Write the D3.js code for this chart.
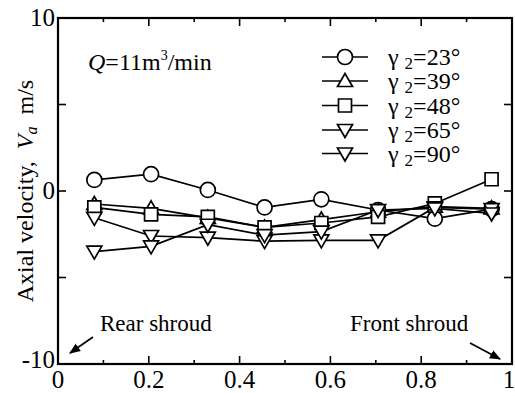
<!DOCTYPE html>
<html>
<head>
<meta charset="utf-8">
<script src="https://cdn.jsdelivr.net/npm/d3@7"></script>
<style>
  body { margin: 0; background: #fff; }
  svg text { font-family: "Liberation Serif", "Times New Roman", serif; fill: #000; white-space: pre; }
</style>
</head>
<body>
<svg id="chart"></svg>
<script>
// Data ------------------------------------------------------------
const positions = [0.08, 0.205, 0.33, 0.455, 0.58, 0.705, 0.83, 0.955];
const gamma23 = [0.64, 0.97, 0.06, -0.95, -0.48, -1.1, -1.6, -1.05];
const gamma39 = [-0.75, -1.0, -1.55, -2.1, -1.65, -1.2, -0.9, -1.0];
const gamma48 = [-0.95, -1.35, -1.5, -2.1, -1.85, -1.5, -0.72, 0.68];
const gamma65 = [-1.55, -2.6, -2.7, -2.9, -2.85, -2.85, -0.95, -1.05];
const gamma90 = [-3.5, -3.2, -1.95, -2.55, -2.35, -1.1, -1.0, -1.3];
const seriesNames = ["23", "39", "48", "65", "90"];
const seriesShapes = ["circle", "up", "square", "down", "down"];
const xTicks = [0, 0.2, 0.4, 0.6, 0.8, 1];
const yTicks = [-10, 0, 10];

const allSeries = [gamma23, gamma39, gamma48, gamma65, gamma90].map((vals, i) => ({
    name: seriesNames[i],
    shape: seriesShapes[i],
    points: vals.map((v, j) => ({ x: positions[j], y: v }))
}));

// Base -------------------------------------------------------------
const W = 515, H = 396;
const margin = { top: 18, right: 3, bottom: 32, left: 58 };

let svg = d3.select("#chart").attr("width", W).attr("height", H);

let x = d3.scaleLinear().domain([0, 1]).range([margin.left, W - margin.right]);
let y = d3.scaleLinear().domain([-10, 10]).range([H - margin.bottom, margin.top]);

// Ticks (inward on all four sides)
const xMinor = d3.range(0, 1.0001, 0.1);
svg.append("g").selectAll("line").data(xMinor).enter().append("line")
    .attr("x1", d => x(d)).attr("x2", d => x(d))
    .attr("y1", y(-10)).attr("y2", (d, i) => y(-10) - (i % 2 === 0 ? 8 : 4))
    .attr("stroke", "#000").attr("stroke-width", 1.6);
svg.append("g").selectAll("line").data(xMinor).enter().append("line")
    .attr("x1", d => x(d)).attr("x2", d => x(d))
    .attr("y1", y(10)).attr("y2", (d, i) => y(10) + (i % 2 === 0 ? 8 : 4))
    .attr("stroke", "#000").attr("stroke-width", 1.6);

const yMinor = [-5, 0, 5];
svg.append("g").selectAll("line").data(yMinor).enter().append("line")
    .attr("x1", x(0)).attr("x2", x(0) + 8)
    .attr("y1", d => y(d)).attr("y2", d => y(d))
    .attr("stroke", "#000").attr("stroke-width", 1.6);
svg.append("g").selectAll("line").data(yMinor).enter().append("line")
    .attr("x1", x(1)).attr("x2", x(1) - 8)
    .attr("y1", d => y(d)).attr("y2", d => y(d))
    .attr("stroke", "#000").attr("stroke-width", 1.6);

// Frame
svg.append("rect")
    .attr("x", x(0)).attr("y", y(10))
    .attr("width", x(1) - x(0)).attr("height", y(-10) - y(10))
    .attr("fill", "none").attr("stroke", "#000").attr("stroke-width", 2.2);

// Tick labels
svg.append("g").selectAll("text").data(xTicks).enter().append("text")
    .attr("x", d => d === 1 ? x(d) - 3 : x(d)).attr("y", 388)
    .attr("text-anchor", "middle").attr("font-size", "25px")
    .text(d => d === 0 || d === 1 ? d : d.toFixed(1));
svg.append("g").selectAll("text").data(yTicks).enter().append("text")
    .attr("x", x(0) - 3).attr("y", d => y(d) + (d === -10 ? 4 : 8))
    .attr("text-anchor", "end").attr("font-size", "25px")
    .text(d => d);

// Axis title
let yTitle = svg.append("text")
    .attr("transform", `translate(33, ${y(0)}) rotate(-90)`)
    .attr("text-anchor", "middle").attr("font-size", "24px");
yTitle.append("tspan").text("Axial velocity,  ");
yTitle.append("tspan").attr("font-style", "italic").text("V");
yTitle.append("tspan").attr("font-style", "italic").attr("font-size", "16px").attr("dy", 4).text("a");
yTitle.append("tspan").attr("dy", -4).text("  m/s");

// Flow-rate note
let qText = svg.append("text").attr("x", 88).attr("y", 70).attr("font-size", "24px");
qText.append("tspan").attr("font-style", "italic").text("Q");
qText.append("tspan").text("=11m");
qText.append("tspan").attr("font-size", "14px").attr("dy", -10).text("3");
qText.append("tspan").attr("dy", 10).text("/min");

// Marker shapes
function markerPath(shape) {
    if (shape === "up") return "M0,-7.5L7.5,5.5L-7.5,5.5Z";
    if (shape === "down") return "M0,7.5L7.5,-5.5L-7.5,-5.5Z";
    if (shape === "square") return "M-6.5,-6.5H6.5V6.5H-6.5Z";
    return null;
}
function drawMarker(g, shape) {
    if (shape === "circle") {
        g.append("circle").attr("r", 7.5)
            .attr("fill", "#fff").attr("stroke", "#000").attr("stroke-width", 1.7);
    } else {
        g.append("path").attr("d", markerPath(shape))
            .attr("fill", "#fff").attr("stroke", "#000").attr("stroke-width", 1.7);
    }
}

// Lines
let line = d3.line().x(d => x(d.x)).y(d => y(d.y));
svg.append("g").selectAll("path").data(allSeries).enter().append("path")
    .attr("d", d => line(d.points))
    .attr("fill", "none").attr("stroke", "#000").attr("stroke-width", 1.7);

// Points
allSeries.forEach(s => {
    let pts = svg.append("g").selectAll("g").data(s.points).enter().append("g")
        .attr("transform", d => `translate(${x(d.x)}, ${y(d.y)})`);
    pts.each(function() { drawMarker(d3.select(this), s.shape); });
});

// Legend
const legendRows = [57, 81, 105.5, 130, 153.5];
allSeries.forEach((s, i) => {
    let g = svg.append("g").attr("transform", `translate(345, ${legendRows[i]})`);
    g.append("line").attr("x1", -23).attr("x2", 23)
        .attr("stroke", "#000").attr("stroke-width", 1.7);
    drawMarker(g, s.shape);
    let t = g.append("text").attr("x", 43).attr("y", 8).attr("font-size", "24px");
    t.append("tspan").text("γ ");
    t.append("tspan").attr("font-size", "17px").attr("dy", 4).text("2");
    t.append("tspan").attr("dy", -4).text("=" + s.name + "°");
});

// Shroud annotations
svg.append("defs").append("marker")
    .attr("id", "arrow").attr("viewBox", "0 0 10 10")
    .attr("refX", 9).attr("refY", 5)
    .attr("markerWidth", 7).attr("markerHeight", 7)
    .attr("orient", "auto")
    .append("path").attr("d", "M0,1L10,5L0,9Z").attr("fill", "#000");

svg.append("text").attr("x", 100).attr("y", 331).attr("font-size", "23px").text("Rear shroud");
svg.append("text").attr("x", 350).attr("y", 331).attr("font-size", "23px").text("Front shroud");

svg.append("line").attr("x1", 93).attr("y1", 337).attr("x2", 70).attr("y2", 353)
    .attr("stroke", "#000").attr("stroke-width", 1.6).attr("marker-end", "url(#arrow)");
svg.append("line").attr("x1", 470).attr("y1", 343).attr("x2", 500).attr("y2", 359)
    .attr("stroke", "#000").attr("stroke-width", 1.6).attr("marker-end", "url(#arrow)");
</script>
</body>
</html>
